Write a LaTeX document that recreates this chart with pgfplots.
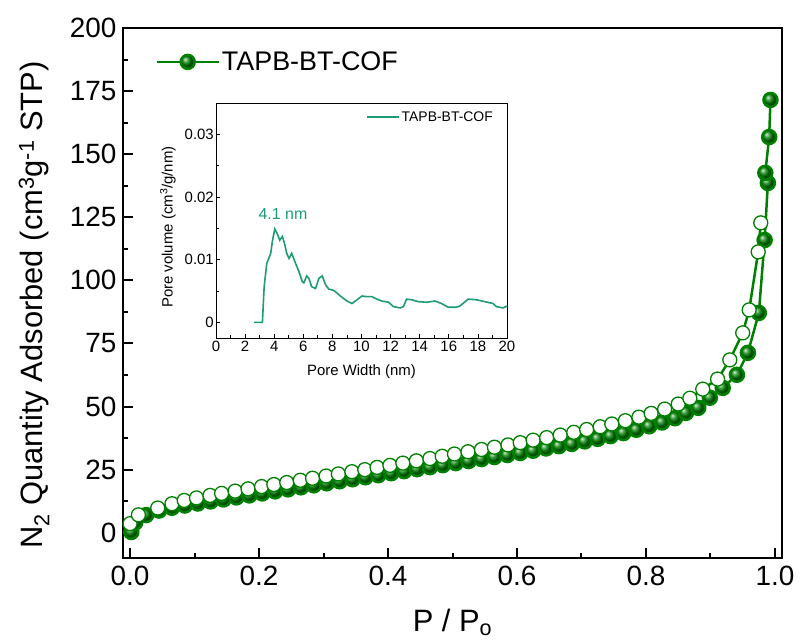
\documentclass[border=0pt]{standalone}
\usepackage{fontspec}
\setmainfont{Liberation Sans}
\usepackage{pgfplots}
\pgfplotsset{compat=1.18}
\definecolor{mygreen}{RGB}{0,128,0}
\definecolor{tealc}{RGB}{30,155,120}
\begin{document}
\begin{tikzpicture}
\useasboundingbox (-123bp,-86bp) rectangle (677bp,558bp);
\begin{axis}[
  at={(0,0)}, anchor=south west, scale only axis,
  width=659bp, height=530bp,
  xmin=-0.0109, xmax=1.0109, ymin=-10, ymax=200,
  axis line style={line width=2.4bp},
  tick style={line width=2bp, black},
  major tick length=10bp, minor tick length=5bp,
  tick align=inside, xtick pos=bottom, ytick pos=left,
  xtick={0,0.2,0.4,0.6,0.8,1}, xticklabels={0.0,0.2,0.4,0.6,0.8,1.0},
  minor xtick={0.1,0.3,0.5,0.7,0.9},
  ytick={0,25,50,75,100,125,150,175,200},
  minor ytick={12.5,37.5,62.5,87.5,112.5,137.5,162.5,187.5},
  /pgf/number format/assume math mode=true,
  ticklabel style={font=\fontsize{28}{30}\selectfont},
  xticklabel style={yshift=-5bp},
  yticklabel style={xshift=-3bp},
  xlabel={P / P\textsubscript{o}},
  xlabel style={font=\fontsize{31}{34}\selectfont, at={(axis description cs:0.5,-0.1396)}, anchor=base},
  ylabel={N\textsubscript{2} Quantity Adsorbed (cm\textsuperscript{3}g\textsuperscript{-1} STP)},
  ylabel style={font=\fontsize{31}{34}\selectfont, at={(axis description cs:-0.135,0.477)}, anchor=center},
  legend style={at={(axis description cs:0.049,0.936)}, anchor=west, draw=none, fill=none,
    font=\fontsize{27}{30}\selectfont, inner sep=0pt},
  legend cell align=left,
  legend image code/.code={\draw[#1, mark repeat=2, mark phase=2] plot coordinates {(0bp,0bp) (31bp,0bp) (62bp,0bp)};},
]
\addplot[color=mygreen, line width=2.5bp, mark=ball, mark size=7bp, mark options={ball color=mygreen}] table {
x y
0.002 0.3
0.008 4.0
0.025 7.0
0.045 8.8
0.065 9.9
0.085 10.8
0.105 11.6
0.125 12.4
0.145 13.2
0.165 14.0
0.185 14.8
0.205 15.6
0.225 16.4
0.245 17.2
0.265 18.0
0.285 18.8
0.305 19.6
0.325 20.4
0.345 21.2
0.365 22.0
0.385 22.8
0.405 23.6
0.425 24.4
0.445 25.2
0.465 26.0
0.485 26.8
0.505 27.6
0.525 28.4
0.545 29.2
0.565 30.0
0.585 30.8
0.605 31.6
0.625 32.5
0.645 33.4
0.665 34.3
0.685 35.2
0.705 36.2
0.725 37.2
0.745 38.3
0.765 39.5
0.785 40.8
0.805 42.2
0.825 43.7
0.845 45.4
0.862 47.5
0.881 49.5
0.899 53.5
0.919 57.4
0.941 62.6
0.958 71.3
0.975 87.1
0.984 116
0.989 138.6
0.985 142.6
0.991 156.8
0.993 171.5
};
\addlegendentry{TAPB-BT-COF}
\addplot[color=mygreen, line width=2.5bp, mark=*, mark size=7bp, mark options={fill=white, draw=mygreen, line width=1.3bp}, forget plot] table {
x y
0.000 3.6
0.013 7.1
0.043 9.8
0.065 11.5
0.084 12.8
0.103 13.8
0.124 14.8
0.142 15.6
0.163 16.5
0.183 17.4
0.204 18.3
0.223 19.1
0.243 19.9
0.264 20.8
0.283 21.6
0.304 22.5
0.323 23.3
0.344 24.2
0.364 25.0
0.383 25.9
0.403 26.7
0.423 27.6
0.444 28.5
0.465 29.4
0.484 30.3
0.503 31.2
0.524 32.1
0.545 33.0
0.565 33.9
0.586 34.8
0.605 35.7
0.625 36.7
0.646 37.7
0.667 38.7
0.688 39.8
0.708 40.9
0.729 42.0
0.747 43.1
0.768 44.4
0.789 45.8
0.808 47.3
0.829 49.0
0.850 51.0
0.868 53.3
0.888 56.9
0.911 60.9
0.930 68.5
0.950 79.2
0.960 88.3
0.974 111.3
0.978 122.8
};
\end{axis}
\begin{axis}[
  at={(93bp,220bp)}, anchor=south west, scale only axis,
  width=291bp, height=235bp,
  xmin=0, xmax=20, ymin=-0.0025, ymax=0.035,
  axis background/.style={fill=white},
  axis line style={line width=0.8bp},
  tick style={line width=0.8bp, black},
  major tick length=4bp, minor tick length=2.5bp,
  tick align=inside, xtick pos=bottom, ytick pos=left,
  xtick={0,2,4,6,8,10,12,14,16,18,20},
  minor xtick={1,3,5,7,9,11,13,15,17,19},
  ytick={0,0.01,0.02,0.03}, yticklabels={0,0.01,0.02,0.03},
  minor ytick={0.005,0.015,0.025},
  scaled y ticks=false,
  /pgf/number format/assume math mode=true,
  ticklabel style={font=\fontsize{15}{17}\selectfont},
  yticklabel style={inner sep=2bp},
  xlabel={Pore Width (nm)},
  xlabel style={font=\fontsize{15}{17}\selectfont, at={(axis description cs:0.5,-0.145)}, anchor=center},
  ylabel={Pore volume (cm\textsuperscript{3}/g/nm)},
  ylabel style={font=\fontsize{15}{17}\selectfont, at={(axis description cs:-0.165,0.472)}, anchor=center},
  legend style={at={(axis description cs:0.515,0.94)}, anchor=west, draw=none, fill=none,
    font=\fontsize{14}{16}\selectfont, inner sep=0pt},
  legend image code/.code={\draw[#1] (0bp,0bp) -- (32bp,0bp);},
]
\addplot[tealc, line width=1.6bp] table {
x y
2.62 0
3.19 0
3.31 0.0057
3.49 0.0094
3.76 0.0110
3.88 0.0130
4.04 0.0149
4.22 0.0141
4.38 0.0131
4.56 0.0137
4.72 0.0125
4.86 0.0110
5.02 0.0102
5.20 0.0110
5.47 0.0094
5.70 0.0081
5.93 0.0065
6.04 0.0063
6.23 0.0074
6.39 0.0070
6.57 0.0057
6.84 0.0054
7.07 0.0070
7.30 0.0074
7.53 0.0060
7.75 0.0053
8.10 0.0051
8.55 0.0042
9.00 0.0034
9.35 0.0030
9.69 0.0036
10.03 0.0042
10.38 0.0041
10.72 0.0041
11.06 0.0037
11.40 0.0034
11.86 0.0032
12.20 0.0025
12.66 0.0023
12.88 0.0025
13.10 0.0037
13.45 0.0036
13.90 0.0033
14.48 0.0032
15.05 0.0034
15.50 0.0030
15.97 0.0024
16.50 0.0024
16.76 0.0026
17.33 0.0037
17.90 0.0036
18.47 0.0033
19.04 0.0030
19.27 0.0025
19.73 0.0023
20.00 0.0026
};
\addlegendentry{TAPB-BT-COF}
\node[text=tealc, font=\fontsize{16}{18}\selectfont] at (axis cs:4.6,0.0173) {4.1 nm};
\end{axis}
\end{tikzpicture}
\end{document}
